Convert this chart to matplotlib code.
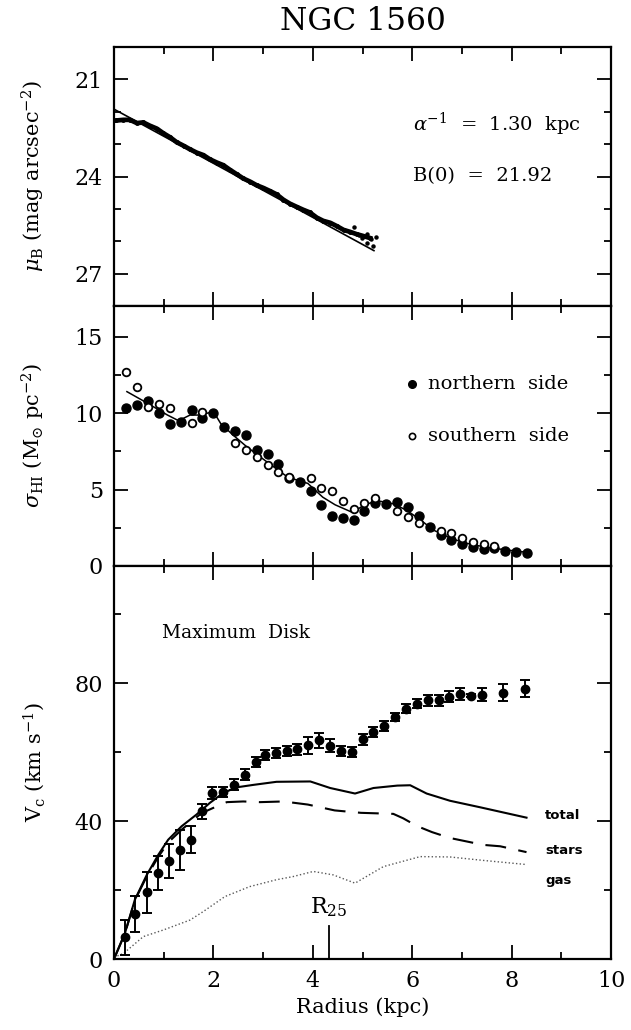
import numpy as np
import matplotlib
matplotlib.use("Agg")
import matplotlib.pyplot as plt
from matplotlib.ticker import MultipleLocator

plt.rcParams['font.family'] = ['DejaVu Serif']
plt.rcParams['mathtext.fontset'] = 'dejavuserif'

# --- top panel: B-band surface brightness profile
prof_r = [0.05, 0.19, 0.32, 0.46, 0.59, 0.72, 0.86, 0.99, 1.13, 1.26, 1.40, 1.53,
          1.66, 1.80, 1.93, 2.07, 2.20, 2.33, 2.47, 2.60, 2.74, 2.87, 3.00, 3.14,
          3.27, 3.41, 3.54, 3.68, 3.81, 3.94, 4.08, 4.21, 4.35, 4.48, 4.62, 4.75,
          4.88, 5.02, 5.15]
prof_mu = [22.27, 22.25, 22.25, 22.35, 22.33, 22.43, 22.52, 22.66, 22.79, 22.94, 23.05, 23.16,
           23.26, 23.34, 23.47, 23.57, 23.65, 23.79, 23.93, 24.06, 24.16, 24.27, 24.35, 24.45,
           24.55, 24.72, 24.84, 24.94, 25.03, 25.11, 25.27, 25.37, 25.43, 25.53, 25.65, 25.71,
           25.78, 25.84, 25.90]
tail_r = [4.82, 4.92, 4.98, 5.09, 5.17, 5.22, 5.28, 5.09]
tail_mu = [25.56, 25.82, 25.89, 25.78, 25.94, 26.14, 25.86, 26.04]
fit_r = [0.0, 5.23]
fit_mu = [21.92, 26.29]

# --- middle panel: HI surface density
north_r = [0.24, 0.46, 0.68, 0.90, 1.12, 1.34, 1.56, 1.78, 2.00, 2.22, 2.43, 2.65,
           2.87, 3.09, 3.30, 3.52, 3.74, 3.96, 4.17, 4.39, 4.61, 4.83, 5.04, 5.26,
           5.48, 5.70, 5.91, 6.13, 6.35, 6.57, 6.78, 7.00, 7.22, 7.44, 7.65, 7.87,
           8.09, 8.31]
north_s = [10.3, 10.5, 10.8, 9.98, 9.28, 9.43, 10.2, 9.65, 10.0, 9.06, 8.84, 8.55,
           7.61, 7.30, 6.64, 5.77, 5.48, 4.89, 4.01, 3.29, 3.14, 3.03, 3.62, 4.12,
           4.06, 4.21, 3.84, 3.29, 2.52, 2.04, 1.69, 1.43, 1.27, 1.14, 1.16, 0.99,
           0.94, 0.88]
south_r = [0.24, 0.46, 0.68, 0.90, 1.12, 1.56, 1.78, 2.43, 2.65, 2.87, 3.09, 3.30,
           3.52, 3.96, 4.17, 4.39, 4.61, 4.83, 5.04, 5.26, 5.70, 5.91, 6.13, 6.57,
           6.78, 7.00, 7.22, 7.44, 7.65]
south_s = [12.7, 11.7, 10.4, 10.6, 10.3, 9.36, 10.1, 8.05, 7.57, 7.13, 6.58, 6.14,
           5.80, 5.77, 5.11, 4.89, 4.23, 3.73, 4.12, 4.43, 3.57, 3.22, 2.78, 2.30,
           2.13, 1.82, 1.60, 1.43, 1.30]
avg_r = [0.26, 0.67, 1.07, 1.30, 1.53, 1.74, 2.00, 2.15, 2.40, 2.67, 3.08, 3.50,
         3.90, 4.20, 4.45, 4.80, 5.04, 5.30, 5.63, 5.90, 6.17, 6.44, 6.78, 7.11,
         7.45, 7.78, 8.12, 8.32]
avg_s = [11.4, 10.65, 9.88, 9.50, 9.87, 9.87, 10.1, 9.30, 8.55, 7.80, 6.80, 5.80,
         5.40, 4.50, 4.00, 3.50, 4.00, 4.27, 4.06, 3.62, 3.00, 2.33, 1.80, 1.47,
         1.25, 1.10, 0.96, 0.90]

# --- bottom panel: rotation curve and maximum disk decomposition
rot_r = [0.22, 0.43, 0.66, 0.88, 1.11, 1.33, 1.55, 1.77, 1.98, 2.20, 2.42, 2.63,
         2.85, 3.04, 3.26, 3.48, 3.69, 3.91, 4.13, 4.35, 4.57, 4.79, 5.00, 5.22,
         5.44, 5.66, 5.88, 6.09, 6.31, 6.53, 6.74, 6.96, 7.19, 7.41, 7.83, 8.27]
rot_v = [6.3, 13.0, 19.3, 24.9, 28.5, 31.5, 34.6, 42.8, 48.2, 48.5, 50.6, 53.5,
         57.1, 59.1, 59.8, 60.3, 60.8, 62.0, 63.5, 61.9, 60.3, 60.0, 63.7, 65.9,
         67.5, 70.2, 72.6, 74.0, 75.0, 75.0, 76.1, 76.9, 76.4, 76.7, 77.2, 78.4]
rot_err = [5.0, 5.2, 6.0, 5.0, 5.0, 5.8, 3.9, 2.2, 1.8, 1.5, 1.6, 1.5,
           1.5, 1.5, 1.5, 1.5, 1.5, 2.5, 2.2, 1.8, 1.5, 1.5, 1.5, 1.5,
           1.5, 1.3, 1.3, 1.3, 1.5, 1.5, 1.5, 1.8, 0.5, 1.8, 2.5, 2.5]
total_r = [0.0, 0.22, 0.42, 0.66, 0.89, 1.09, 1.36, 1.66, 1.93, 2.20, 2.47, 2.80,
           3.27, 3.95, 4.35, 4.85, 5.22, 5.70, 5.96, 6.29, 6.76, 7.37, 8.30]
total_v = [0.0, 7.5, 17.2, 24.4, 30.2, 34.6, 38.5, 41.9, 45.3, 48.2, 49.8, 50.5,
           51.4, 51.5, 49.6, 48.0, 49.6, 50.3, 50.4, 48.0, 45.9, 44.0, 41.0]
stars_r = [0.0, 0.22, 0.42, 0.66, 0.89, 1.09, 1.36, 1.76, 2.07, 2.27, 2.60, 2.94,
           3.41, 3.90, 4.44, 4.97, 5.62, 5.82, 6.09, 6.40, 6.76, 7.43, 7.77, 8.30]
stars_v = [0.0, 7.4, 17.0, 24.0, 29.6, 33.8, 37.5, 42.3, 44.3, 45.5, 45.7, 45.5,
           45.7, 44.8, 43.1, 42.4, 42.1, 40.8, 38.6, 36.8, 35.1, 33.1, 32.7, 31.0]
gas_r = [0.0, 0.19, 0.59, 0.99, 1.53, 1.80, 2.23, 2.73, 3.27, 3.60, 4.01, 4.41,
         4.85, 5.42, 6.16, 6.76, 7.43, 8.30]
gas_v = [0.5, 1.6, 6.5, 8.4, 11.3, 13.8, 18.1, 21.0, 23.0, 23.9, 25.4, 24.4,
         22.0, 26.8, 29.7, 29.6, 28.6, 27.4]
r25 = 4.33


def style_axis(ax):
    ax.xaxis.set_major_locator(MultipleLocator(2))
    ax.xaxis.set_minor_locator(MultipleLocator(1))
    ax.tick_params(which='both', direction='in', top=True, right=True, width=1.3)
    ax.tick_params(which='major', length=10, labelsize=16, pad=8)
    ax.tick_params(which='minor', length=5)
    for sp in ax.spines.values():
        sp.set_linewidth(1.6)
    ax.yaxis.set_label_coords(-0.135, 0.5)


fig = plt.figure(figsize=(6.31, 10.30), dpi=100)
left, right = 114 / 631, 611 / 631
w = right - left
bounds = [47, 306, 566, 959]
axes = []
for i in range(3):
    top = 1 - bounds[i] / 1030
    bot = 1 - bounds[i + 1] / 1030
    axes.append(fig.add_axes([left, bot, w, top - bot]))
ax1, ax2, ax3 = axes

# top panel
ax1.plot(fit_r, fit_mu, color='black', lw=1.2)
ax1.plot(prof_r, prof_mu, color='black', lw=3.4, marker='o', ms=2.5)
ax1.plot(tail_r, tail_mu, 'o', color='black', ms=2.2)
ax1.set_xlim(0, 10)
ax1.set_ylim(28, 20)
ax1.yaxis.set_minor_locator(MultipleLocator(1))
ax1.set_yticks([21, 24, 27])
style_axis(ax1)
ax1.tick_params(labelbottom=False)
ax1.set_ylabel(r'$\mu_{\rm B}$ (mag arcsec$^{-2}$)', fontsize=15)
ax1.text(6.02, 22.4, r'$\alpha^{-1}$  =  1.30  kpc', fontsize=14, va='center')
ax1.text(6.02, 24.0, r'B(0)  =  21.92', fontsize=14, va='center')

# middle panel
ax2.plot(avg_r, avg_s, color='black', lw=1.1)
ax2.plot(north_r, north_s, 'o', color='black', ms=6.5)
ax2.plot(south_r, south_s, 'o', mfc='white', mec='black', mew=1.3, ms=5.5)
ax2.plot([6.0], [11.9], 'o', color='black', ms=5.5)
ax2.plot([6.0], [8.5], 'o', mfc='white', mec='black', mew=1.2, ms=4.5)
ax2.text(6.32, 11.9, 'northern  side', fontsize=14, va='center')
ax2.text(6.32, 8.5, 'southern  side', fontsize=14, va='center')
ax2.set_xlim(0, 10)
ax2.set_ylim(0, 17)
ax2.yaxis.set_major_locator(MultipleLocator(5))
ax2.yaxis.set_minor_locator(MultipleLocator(2.5))
style_axis(ax2)
ax2.tick_params(labelbottom=False)
ax2.set_ylabel(r'$\sigma_{\rm HI}$ (M$_{\odot}$ pc$^{-2}$)', fontsize=15)

# bottom panel
ax3.plot(total_r, total_v, color='black', lw=1.5)
ax3.plot(stars_r, stars_v, color='black', lw=1.5, dashes=(10, 6))
ax3.plot(gas_r, gas_v, color='0.35', lw=1.0, ls=':')
ax3.errorbar(rot_r, rot_v, yerr=rot_err, fmt='o', color='black', ms=6,
             capsize=3.5, elinewidth=1.4, capthick=1.4)
ax3.plot([r25, r25], [0, 9.7], color='black', lw=1.3)
ax3.text(r25, 11.5, r'R$_{25}$', fontsize=16, ha='center', va='bottom')
ax3.text(0.97, 94.5, 'Maximum  Disk', fontsize=13.5, va='center')
lab = dict(fontsize=9.5, fontweight='bold', family='DejaVu Sans', va='center')
ax3.text(8.67, 41.5, 'total', **lab)
ax3.text(8.67, 31.5, 'stars', **lab)
ax3.text(8.67, 22.8, 'gas', **lab)
ax3.set_xlim(0, 10)
ax3.set_ylim(0, 114)
ax3.yaxis.set_major_locator(MultipleLocator(40))
ax3.yaxis.set_minor_locator(MultipleLocator(20))
style_axis(ax3)
ax3.set_xlabel('Radius (kpc)', fontsize=15)
ax3.set_ylabel(r'V$_{\rm c}$ (km s$^{-1}$)', fontsize=15)

fig.text((left + right) / 2, 1 - 22 / 1030, 'NGC 1560', fontsize=22.5,
         ha='center', va='center')

fig.savefig('out.png', dpi=100)
